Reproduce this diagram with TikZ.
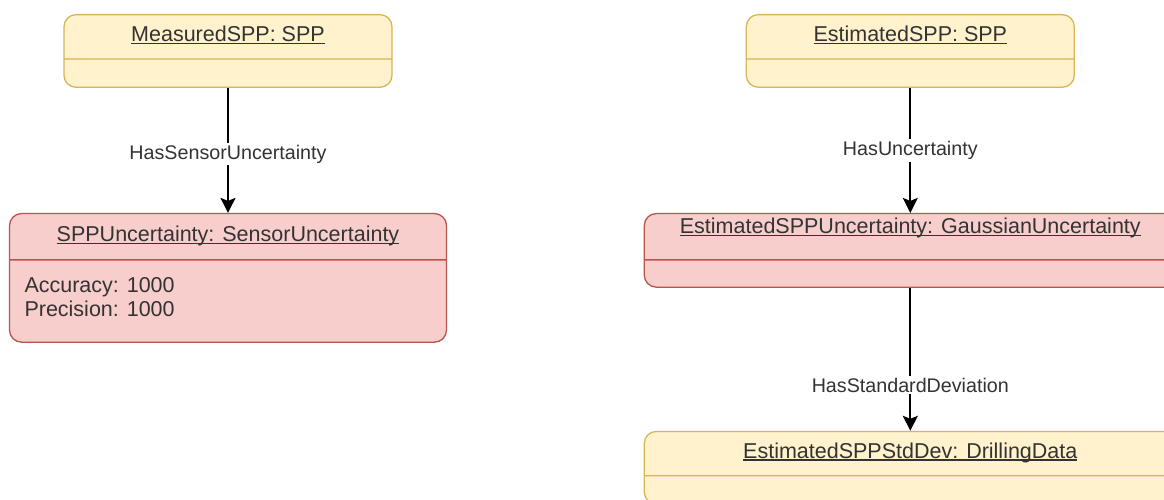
\documentclass[tikz,border=0pt]{standalone}
\usepackage{fontspec}
\setmainfont{Liberation Sans}
\usetikzlibrary{arrows.meta,positioning,shapes.multipart}

\definecolor{noteFill}{HTML}{FFF2CC}
\definecolor{noteDraw}{HTML}{D6B656}
\definecolor{warnFill}{HTML}{F8CECC}
\definecolor{warnDraw}{HTML}{B85450}
\definecolor{txt}{HTML}{333333}

% underlined object name, line just under the baseline
\newcommand{\objname}[1]{\setbox0\hbox{#1}\rlap{\rule[-2.6pt]{\wd0}{1.3pt}}\box0}
\newcommand{\headstrut}{\rule[-17pt]{0pt}{43pt}}
\newcommand{\bodystrut}{\rule{0pt}{27pt}}

\tikzset{
  object/.style={rectangle split, rectangle split parts=2, rounded corners=12pt, line width=1.3pt,
                 inner xsep=15pt, inner ysep=0pt, text=txt, font=\fontsize{21.5}{24}\selectfont,
                 rectangle split part align={center,left}},
  yellowobj/.style={object, draw=noteDraw, fill=noteFill},
  redobj/.style={object, draw=warnDraw, fill=warnFill},
  link/.style={-{Stealth[length=15pt,width=15pt,inset=3pt]}, line width=1.8pt, black},
  linklabel/.style={fill=white, text=txt, inner sep=2pt, font=\fontsize{19.7}{22}\selectfont},
}

\begin{document}
\begin{tikzpicture}[x=1pt, y=-1pt]
\useasboundingbox (0,0) rectangle (1164,500);
\clip (0,0) rectangle (1164,500);

% Measured SPP and its sensor uncertainty
\node[yellowobj, minimum width=328pt, anchor=north] (measured) at (228,14)
  {\headstrut\objname{MeasuredSPP: SPP}\nodepart{two}\bodystrut};
\node[redobj, minimum width=437pt, below=125pt of measured] (sensorunc)
  {\rule[-18pt]{0pt}{45pt}\objname{SPPUncertainty: SensorUncertainty}
   \nodepart{two}\rule[-25pt]{0pt}{81pt}\begin{tabular}[b]{@{}l@{}}Accuracy: 1000\\Precision: 1000\end{tabular}};

% Estimated SPP chain
\node[yellowobj, minimum width=328pt, right=353pt of measured] (estimated)
  {\headstrut\objname{EstimatedSPP: SPP}\nodepart{two}\bodystrut};
\node[redobj, minimum width=532pt, below=125pt of estimated] (gaussunc)
  {\rule[-26pt]{0pt}{45pt}\objname{EstimatedSPPUncertainty: GaussianUncertainty}\nodepart{two}\rule{0pt}{26pt}};
\node[yellowobj, minimum width=532pt, below=143pt of gaussunc] (stddev)
  {\headstrut\objname{EstimatedSPPStdDev: DrillingData}\nodepart{two}\bodystrut};

% Relations
\draw[link] (measured) -- node[linklabel, pos=0.53] {HasSensorUncertainty} (sensorunc);
\draw[link] (estimated) -- node[linklabel, pos=0.5] {HasUncertainty} (gaussunc);
\draw[link] (gaussunc) -- node[linklabel, pos=0.68] {HasStandardDeviation} (stddev);

\end{tikzpicture}
\end{document}
